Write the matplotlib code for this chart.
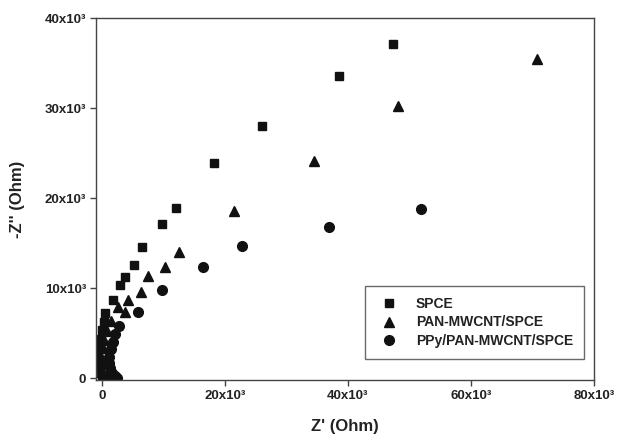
import matplotlib
matplotlib.use("Agg")
import matplotlib.pyplot as plt
from matplotlib.ticker import FixedLocator, FixedFormatter

plt.rcParams['font.family'] = ['Liberation Sans', 'DejaVu Sans']
plt.rcParams['font.weight'] = 'bold'

# Data (values in Ohm x 10^3)
spce_x = [47.4, 38.5, 26.1, 18.2, 12.0, 9.7, 6.6, 5.2, 3.7, 2.9, 1.8, 0.5, 0.3, 0.0, -0.3, -0.5, -0.6, -0.5, -0.3, 0.0, 0.3]
spce_y = [37.1, 33.6, 28.0, 23.9, 18.9, 17.1, 14.6, 12.6, 11.2, 10.3, 8.7, 7.2, 6.2, 5.3, 4.4, 3.5, 2.6, 1.8, 1.0, 0.4, 0.0]

pan_x = [70.7, 48.2, 34.4, 21.5, 12.5, 10.2, 7.5, 6.3, 4.2, 3.7, 2.7, 1.5, 0.8, 0.4, 0.1, -0.2, -0.4, -0.2, 0.2, 0.6]
pan_y = [35.5, 30.2, 24.1, 18.6, 14.0, 12.3, 11.3, 9.6, 8.7, 7.4, 7.9, 6.3, 5.2, 4.2, 3.3, 2.4, 1.5, 0.7, 0.2, 0.0]

ppy_x = [51.8, 36.9, 22.8, 16.5, 9.7, 5.8, 2.8, 2.2, 1.8, 1.5, 1.2, 1.1, 1.3, 1.7, 2.1, 2.4, 1.6]
ppy_y = [18.8, 16.8, 14.7, 12.3, 9.8, 7.4, 5.8, 4.9, 4.0, 3.2, 2.4, 1.7, 1.1, 0.6, 0.2, 0.0, 0.0]

labels = ["SPCE", "PAN-MWCNT/SPCE", "PPy/PAN-MWCNT/SPCE"]
xticks = [0, 20000, 40000, 60000, 80000]
xticklabels = ["0", "20x10³", "40x10³", "60x10³", "80x10³"]
yticks = [0, 10000, 20000, 30000, 40000]
yticklabels = ["0", "10x10³", "20x10³", "30x10³", "40x10³"]

fig = plt.figure(figsize=(6.34, 4.40), dpi=100)
ax = fig.add_axes([0.151, 0.136, 0.786, 0.823])

k = 1000.0
col = '#111111'
ax.plot([v * k for v in spce_x], [v * k for v in spce_y], linestyle='none', marker='s',
        markersize=6, color=col, label=labels[0])
ax.plot([v * k for v in pan_x], [v * k for v in pan_y], linestyle='none', marker='^',
        markersize=7, color=col, label=labels[1])
ax.plot([v * k for v in ppy_x], [v * k for v in ppy_y], linestyle='none', marker='o',
        markersize=7, color=col, label=labels[2])

ax.set_xlim(-1000, 80000)
ax.set_ylim(-220, 40000)
ax.xaxis.set_major_locator(FixedLocator(xticks))
ax.xaxis.set_major_formatter(FixedFormatter(xticklabels))
ax.yaxis.set_major_locator(FixedLocator(yticks))
ax.yaxis.set_major_formatter(FixedFormatter(yticklabels))

for s in ax.spines.values():
    s.set_color('#444444')
    s.set_linewidth(1.0)
ax.tick_params(direction='out', length=4, width=1, color='#444444',
               labelsize=9.5, labelcolor='#222222', top=False, right=False, pad=3)
for lab in ax.get_xticklabels() + ax.get_yticklabels():
    lab.set_fontweight('bold')

ax.set_xlabel("Z' (Ohm)", fontsize=12, fontweight='bold', color='#222222', labelpad=12)
ax.set_ylabel("-Z'' (Ohm)", fontsize=12, fontweight='bold', color='#222222', labelpad=14)

leg = ax.legend(loc='lower right', bbox_to_anchor=(0.98, 0.058), frameon=True, fancybox=False,
                edgecolor='#444444', fontsize=10, borderpad=0.8, handletextpad=0.95,
                labelspacing=0.33, handlelength=1.9, borderaxespad=0)
leg.get_frame().set_linewidth(1.0)
for t in leg.get_texts():
    t.set_fontweight('bold')
    t.set_color('#222222')

fig.savefig("out.png", dpi=100)
